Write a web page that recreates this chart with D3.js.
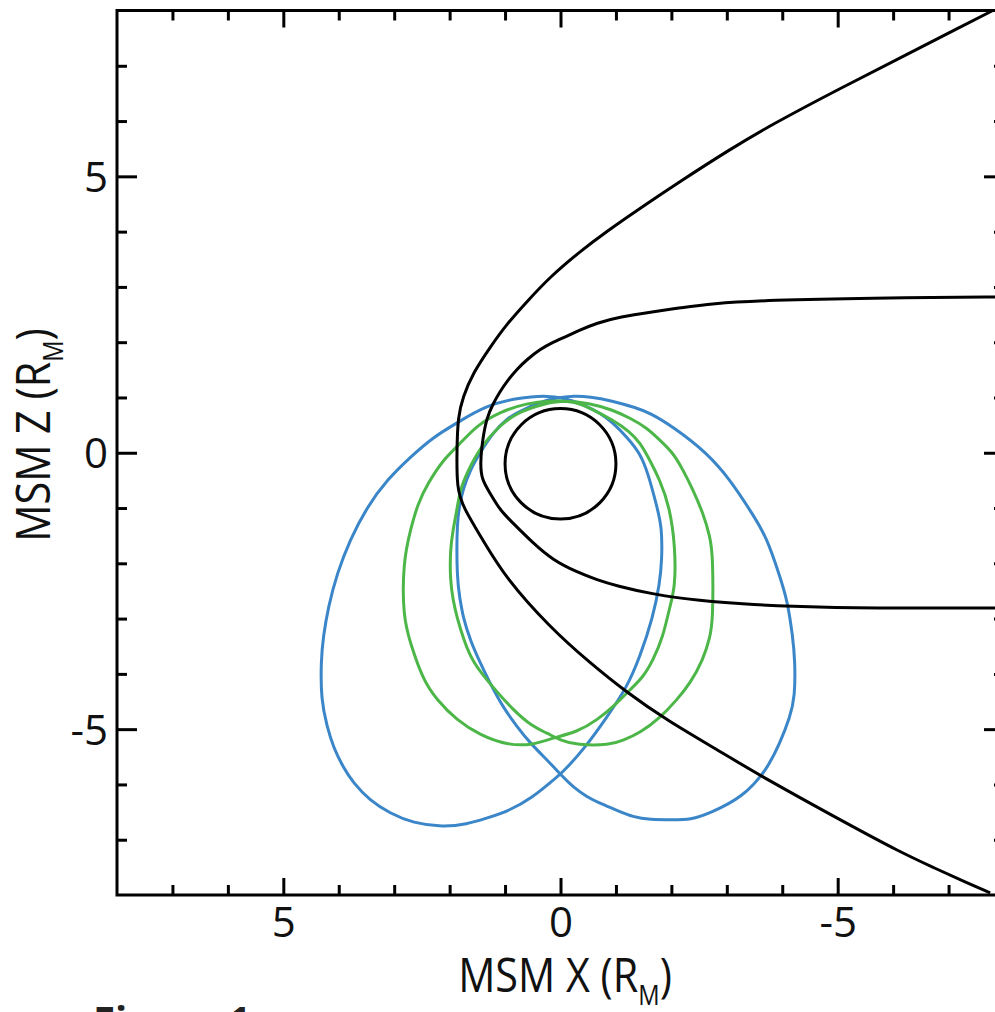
<!DOCTYPE html>
<html>
<head>
<meta charset="utf-8">
<script src="https://cdn.jsdelivr.net/npm/d3@7"></script>
<style>
  body { margin: 0; background: #fff; }
  svg { display: block; }
</style>
</head>
<body>
<div id="chart"></div>
<script>
// MSM X-Z plane: X runs from +8 (sunward, left) to -8 (right)
const xTicks = d3.range(-7, 8);
const yTicks = d3.range(-7, 8);
const labelTicks = [-5, 0, 5];

// planet: centre (x, z) and radius, in R_M
const planet = [{x: 0, z: -0.2, r: 1}];

// bow shock (outer black curve), [x, z]
const bowShock = [[-7.8,8.0],[-7.21,7.70],[-6.30,7.23],[-5.04,6.59],[-3.78,5.92],[-3.06,5.49],[-2.16,4.91],
  [-1.43,4.42],[-0.84,4.01],[-0.35,3.64],[0.19,3.18],[0.60,2.74],[0.96,2.34],[1.27,1.91],[1.58,1.44],
  [1.76,1.01],[1.85,0.65],[1.87,0.05],[1.87,-0.64],[1.76,-0.98],[1.40,-1.58],[1.00,-2.25],[0.19,-3.16],
  [-0.53,-3.80],[-1.20,-4.34],[-1.92,-4.84],[-2.82,-5.37],[-3.65,-5.87],[-5.17,-6.71],[-6.12,-7.22],
  [-6.72,-7.50],[-7.33,-7.78],[-7.75,-7.96]];

// magnetopause (inner black curve), [x, z]
const magnetopause = [[-8.1,2.82],[-5.5,2.80],[-3.78,2.76],[-2.70,2.70],[-2.16,2.62],[-1.67,2.55],[-1.07,2.46],
  [-0.66,2.35],[-0.30,2.20],[-0.12,2.11],[0.14,2.00],[0.37,1.87],[0.60,1.69],[0.78,1.52],[0.96,1.30],
  [1.09,1.11],[1.22,0.88],[1.33,0.63],[1.40,0.28],[1.45,-0.19],[1.42,-0.49],[1.27,-0.73],[1.09,-1.04],
  [0.86,-1.27],[0.50,-1.63],[0.14,-1.94],[-0.30,-2.16],[-0.66,-2.30],[-1.02,-2.41],[-1.61,-2.55],
  [-2.51,-2.68],[-3.42,-2.75],[-4.73,-2.80],[-6.5,-2.81],[-8.1,-2.81]];

// orbit tracks, [x, z]
const orbitBlueA = [[0.28,1.04],[-0.08,0.99],[-0.44,0.86],[-0.71,0.72],[-0.95,0.54],[-1.20,0.28],[-1.43,0.00],
  [-1.58,-0.37],[-1.74,-0.98],[-1.83,-1.35],[-1.83,-1.94],[-1.79,-2.36],[-1.67,-2.97],[-1.43,-3.70],
  [-1.20,-4.24],[-0.84,-4.78],[-0.41,-5.38],[-0.03,-5.79],[0.19,-5.97],[0.50,-6.23],[0.91,-6.47],
  [1.33,-6.61],[1.69,-6.72],[2.12,-6.77],[2.66,-6.70],[3.08,-6.52],[3.44,-6.29],[3.74,-5.97],[3.92,-5.69],
  [4.10,-5.32],[4.21,-4.96],[4.32,-4.47],[4.32,-3.75],[4.28,-3.33],[4.19,-2.79],[4.03,-2.18],[3.80,-1.58],
  [3.49,-0.98],[3.13,-0.49],[2.71,-0.08],[2.30,0.28],[1.87,0.54],[1.33,0.86],[0.78,0.99]];

const orbitBlueB = [[1.87,-2.30],[1.87,-1.22],[1.81,-0.91],[1.76,-0.67],[1.63,-0.31],[1.45,0.00],[1.22,0.36],
  [0.96,0.63],[0.73,0.75],[0.37,0.92],[0.10,0.99],[-0.26,1.03],[-0.53,1.01],[-0.89,0.95],[-1.38,0.81],
  [-1.61,0.72],[-2.03,0.47],[-2.64,0.00],[-3.06,-0.49],[-3.42,-1.04],[-3.72,-1.52],[-3.96,-2.25],
  [-4.09,-2.66],[-4.19,-3.33],[-4.23,-3.75],[-4.23,-4.42],[-4.14,-4.78],[-3.96,-5.25],[-3.72,-5.74],
  [-3.29,-6.23],[-2.70,-6.52],[-2.34,-6.64],[-2.03,-6.64],[-1.61,-6.64],[-1.31,-6.59],[-1.02,-6.47],
  [-0.71,-6.34],[-0.48,-6.23],[-0.23,-6.05],[-0.05,-5.87],[0.19,-5.61],[0.55,-5.25],[0.78,-4.96],
  [1.04,-4.60],[1.27,-4.17],[1.45,-3.80],[1.63,-3.39],[1.76,-2.97],[1.81,-2.66]];

const orbitGreenC = [[0.19,0.94],[-0.23,0.94],[-0.53,0.81],[-0.95,0.59],[-1.25,0.38],[-1.43,0.19],[-1.61,-0.13],
  [-1.79,-0.49],[-1.97,-0.98],[-2.07,-1.70],[-2.07,-2.43],[-1.97,-2.79],[-1.85,-3.33],[-1.67,-3.75],
  [-1.49,-4.06],[-1.25,-4.29],[-1.02,-4.53],[-0.66,-4.84],[-0.30,-5.05],[0.14,-5.16],[0.50,-5.29],
  [0.96,-5.29],[1.45,-5.11],[1.87,-4.84],[2.23,-4.47],[2.48,-4.11],[2.71,-3.44],[2.84,-2.97],[2.84,-1.99],
  [2.71,-1.40],[2.57,-0.91],[2.39,-0.55],[2.12,-0.13],[1.87,0.10],[1.51,0.50],[1.09,0.74],[0.60,0.90]];

const orbitGreenD = [[1.99,-2.30],[1.99,-1.76],[1.94,-1.40],[1.87,-1.04],[1.81,-0.67],[1.69,-0.37],[1.45,0.10],
  [1.09,0.50],[0.78,0.72],[0.42,0.85],[0.01,0.95],[-0.53,0.90],[-0.95,0.77],[-1.25,0.63],[-1.56,0.45],
  [-1.79,0.23],[-2.03,0.00],[-2.21,-0.31],[-2.39,-0.67],[-2.57,-1.09],[-2.70,-1.52],[-2.75,-1.88],
  [-2.75,-3.02],[-2.70,-3.33],[-2.57,-3.75],[-2.34,-4.17],[-2.10,-4.47],[-1.79,-4.80],[-1.43,-5.07],
  [-1.13,-5.20],[-0.89,-5.29],[-0.30,-5.29],[0.01,-5.20],[0.24,-5.07],[0.50,-4.96],[0.86,-4.65],
  [1.22,-4.24],[1.58,-3.80],[1.74,-3.40],[1.87,-2.97],[1.94,-2.66]];

const W = 995, H = 1012;
const plot = {left: 117, right: 1004, top: 10.5, bottom: 895};
const fontFamily = "'Open Sans', 'Noto Sans', sans-serif";
const blue = "#3a86c8", green = "#4cb748";

const x = d3.scaleLinear().domain([8, -8]).range([plot.left, plot.right]);
const y = d3.scaleLinear().domain([-8, 8]).range([plot.bottom, plot.top]);

const svg = d3.select("#chart").append("svg")
    .attr("width", W)
    .attr("height", H)
    .style("background", "#fff");

svg.append("clipPath").attr("id", "plot-clip")
  .append("rect")
    .attr("x", plot.left).attr("y", plot.top)
    .attr("width", plot.right - plot.left)
    .attr("height", plot.bottom - plot.top);

let fmt = d => labelTicks.includes(d) ? String(d) : "";
let isMajor = d => labelTicks.includes(d);

function styleAxis(g) {
  g.select(".domain").remove();
  g.selectAll(".tick line").attr("stroke", "#000").attr("stroke-width", 3);
  g.selectAll(".tick text")
    .attr("font-family", fontFamily)
    .attr("font-size", 42)
    .attr("fill", "#111");
}

// bottom / top
svg.append("g")
    .attr("transform", `translate(0,${plot.bottom})`)
    .call(d3.axisBottom(x).tickValues(xTicks).tickSize(-10).tickPadding(12).tickFormat(fmt))
    .call(styleAxis)
    .call(g => g.selectAll(".tick line").filter(isMajor).attr("y2", -17));

svg.append("g")
    .attr("transform", `translate(0,${plot.top})`)
    .call(d3.axisTop(x).tickValues(xTicks).tickSize(-10).tickFormat(""))
    .call(styleAxis)
    .call(g => g.selectAll(".tick line").filter(isMajor).attr("y2", 17));

// left / right
svg.append("g")
    .attr("transform", `translate(${plot.left},0)`)
    .call(d3.axisLeft(y).tickValues(yTicks).tickSize(-10).tickPadding(9).tickFormat(fmt))
    .call(styleAxis)
    .call(g => g.selectAll(".tick line").filter(isMajor).attr("x2", 20))
    .call(g => g.selectAll(".tick text").attr("dy", "0.36em"));

svg.append("g")
    .attr("transform", `translate(${plot.right},0)`)
    .call(d3.axisRight(y).tickValues(yTicks).tickSize(-10).tickFormat(""))
    .call(styleAxis)
    .call(g => g.selectAll(".tick line").filter(isMajor).attr("x2", -20));

// curves, smoothed through the read-off points
let openLine = d3.line().x(d => x(d[0])).y(d => y(d[1])).curve(d3.curveBasis);
let closedLine = d3.line().x(d => x(d[0])).y(d => y(d[1])).curve(d3.curveBasisClosed);

let curves = svg.append("g").attr("clip-path", "url(#plot-clip)").attr("fill", "none");

curves.selectAll("path.orbit")
  .data([
    {pts: orbitBlueA, color: blue},
    {pts: orbitBlueB, color: blue},
    {pts: orbitGreenC, color: green},
    {pts: orbitGreenD, color: green}
  ])
  .join("path")
    .attr("class", "orbit")
    .attr("d", d => closedLine(d.pts))
    .attr("stroke", d => d.color)
    .attr("stroke-width", 3);

curves.selectAll("path.boundary")
  .data([bowShock, magnetopause])
  .join("path")
    .attr("class", "boundary")
    .attr("d", d => openLine(d))
    .attr("stroke", "#000")
    .attr("stroke-width", 3);

curves.selectAll("ellipse")
  .data(planet)
  .join("ellipse")
    .attr("cx", d => x(d.x))
    .attr("cy", d => y(d.z))
    .attr("rx", d => Math.abs(x(d.r) - x(0)))
    .attr("ry", d => Math.abs(y(d.r) - y(0)))
    .attr("stroke", "#000")
    .attr("stroke-width", 3);

// frame
svg.append("rect")
    .attr("x", plot.left).attr("y", plot.top)
    .attr("width", plot.right - plot.left)
    .attr("height", plot.bottom - plot.top)
    .attr("fill", "none")
    .attr("stroke", "#000")
    .attr("stroke-width", 3);

// axis titles (condensed a bit horizontally)
function title(g, main) {
  let t = g.append("text")
      .attr("text-anchor", "middle")
      .attr("font-family", fontFamily)
      .attr("font-size", 47)
      .attr("fill", "#111");
  t.append("tspan").text(main);
  t.append("tspan").attr("font-size", 27).attr("dy", 13).text("M");
  t.append("tspan").attr("dy", -13).text(")");
}

svg.append("g")
    .attr("transform", `translate(565,992) scale(0.88,1)`)
    .call(g => title(g, "MSM X (R"));

svg.append("g")
    .attr("transform", `translate(50,435) rotate(-90) scale(0.88,1)`)
    .call(g => title(g, "MSM Z (R"));

// caption, cut off by the bottom edge
svg.append("text")
    .attr("x", 93)
    .attr("y", 1035)
    .attr("font-family", fontFamily)
    .attr("font-weight", "bold")
    .attr("font-size", 40)
    .attr("fill", "#222")
    .text("Figure 1");
</script>
</body>
</html>
